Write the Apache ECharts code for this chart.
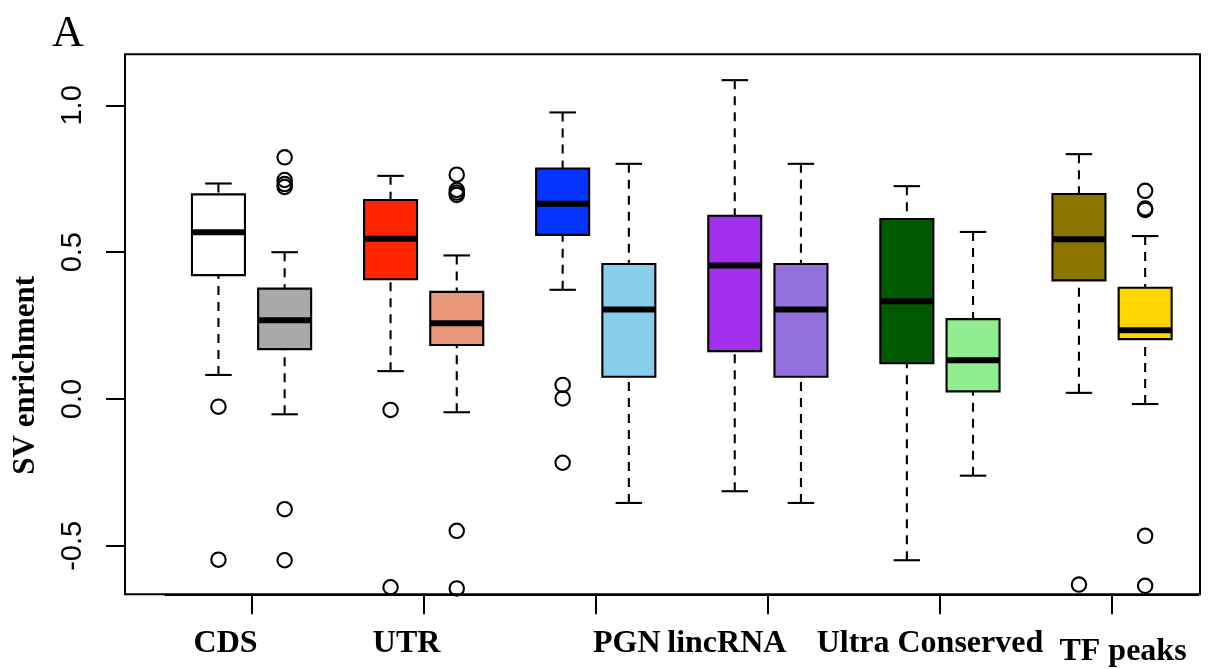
<!DOCTYPE html>
<html>
<head>
<meta charset="utf-8">
<script src="https://cdn.jsdelivr.net/npm/echarts@6/dist/echarts.min.js"></script>
<style>
  html, body { margin: 0; padding: 0; background: #fff; }
  #chart { width: 1211px; height: 669px; }
</style>
</head>
<body>
<div id="chart"></div>
<script>
// groups on the x axis, each one has two boxes (left / right)
const categories = ['CDS', 'UTR', 'PGN', 'lincRNA', 'Ultra Conserved', 'TF peaks']

// box stats, 12 boxes in order (CDS left, CDS right, UTR left, ...)
const lowerWhisker = [0.082, -0.052, 0.095, -0.045, 0.372, -0.354, -0.314, -0.354, -0.549, -0.261, 0.021, -0.017]
const q1 = [0.422, 0.170, 0.408, 0.184, 0.559, 0.076, 0.163, 0.076, 0.122, 0.026, 0.404, 0.204]
const median = [0.568, 0.268, 0.546, 0.258, 0.665, 0.305, 0.455, 0.305, 0.333, 0.132, 0.544, 0.234]
const q3 = [0.697, 0.376, 0.678, 0.365, 0.785, 0.460, 0.624, 0.460, 0.613, 0.272, 0.698, 0.379]
const upperWhisker = [0.734, 0.500, 0.760, 0.489, 0.976, 0.801, 1.086, 0.801, 0.725, 0.569, 0.834, 0.555]
const outliers = [
  [-0.026, -0.547],
  [0.823, 0.746, 0.732, 0.722, -0.375, -0.549],
  [-0.037, -0.641],
  [0.764, 0.712, 0.703, 0.695, -0.449, -0.645],
  [0.048, 0.002, -0.217],
  [],
  [],
  [],
  [],
  [],
  [-0.632],
  [0.709, 0.649, 0.644, -0.466, -0.636]
]
const yTicks = [-0.5, 0, 0.5, 1.0]

const boxColors = ['#FFFFFF', '#A9A9A9', '#FF2600', '#E9967A', '#0534FF', '#87CEEB',
  '#A030EC', '#9370DB', '#005A00', '#90EE90', '#8B7500', '#FFD700']

// label nudges (px) to follow the hand placed labels of the original
const labelShift = [-26, -17, 31, -41, -10, 11]

const PAIR_OFFSET = 0.1923 // box centre offset, share of the band
const BOX_HALF = 0.154 // half box width, share of the band
const Y_MIN = -0.665
const Y_MAX = 1.174
const LW = 2.1

const boxData = median.map((m, i) => [Math.floor(i / 2), i % 2 ? 1 : -1,
  lowerWhisker[i], q1[i], m, q3[i], upperWhisker[i]])

const outlierData = []
outliers.forEach((list, i) => {
  list.forEach(v => outlierData.push([Math.floor(i / 2), i % 2 ? 1 : -1, v]))
})

const catItems = categories.map((c, i) => {
  const s = labelShift[i]
  const pad = [i === 5 ? 8 : 0, s < 0 ? -2 * s : 0, 0, s > 0 ? 2 * s : 0]
  return { value: c, textStyle: { padding: pad } }
})

function renderBox (params, api) {
  const cat = api.value(0)
  const side = api.value(1)
  const band = api.size([1, 0])[0]
  const cx = api.coord([cat, 0])[0] + side * band * PAIR_OFFSET
  const half = band * BOX_HALF
  const y = d => api.coord([cat, api.value(d)])[1]
  const yLow = y(2), yQ1 = y(3), yMed = y(4), yQ3 = y(5), yHigh = y(6)
  const dashed = { stroke: '#000', lineWidth: LW, lineDash: [9, 7] }
  const solid = { stroke: '#000', lineWidth: LW }
  return {
    type: 'group',
    children: [
      { type: 'line', shape: { x1: cx, y1: yHigh, x2: cx, y2: yQ3 }, style: dashed },
      { type: 'line', shape: { x1: cx, y1: yLow, x2: cx, y2: yQ1 }, style: dashed },
      { type: 'line', shape: { x1: cx - half / 2, y1: yHigh, x2: cx + half / 2, y2: yHigh }, style: solid },
      { type: 'line', shape: { x1: cx - half / 2, y1: yLow, x2: cx + half / 2, y2: yLow }, style: solid },
      {
        type: 'rect',
        shape: { x: cx - half, y: yQ3, width: 2 * half, height: yQ1 - yQ3 },
        style: { fill: boxColors[params.dataIndex], stroke: '#000', lineWidth: LW }
      },
      { type: 'line', shape: { x1: cx - half, y1: yMed, x2: cx + half, y2: yMed }, style: { stroke: '#000', lineWidth: 6 } }
    ]
  }
}

function renderOutlier (params, api) {
  const cat = api.value(0)
  const band = api.size([1, 0])[0]
  const p = api.coord([cat, api.value(2)])
  return {
    type: 'circle',
    shape: { cx: p[0] + api.value(1) * band * PAIR_OFFSET, cy: p[1], r: 7.2 },
    style: { fill: 'none', stroke: '#000', lineWidth: LW }
  }
}

const myChart = echarts.init(document.getElementById('chart'))

myChart.setOption({
  animation: false,
  backgroundColor: '#fff',
  title: {
    text: 'A',
    left: 47,
    top: 7,
    textStyle: { fontFamily: 'Liberation Serif', fontSize: 44, fontWeight: 'normal', color: '#000' }
  },
  grid: [
    { left: 125, top: 54.3, width: 1075, height: 540, show: true, borderColor: '#000', borderWidth: 2, backgroundColor: 'transparent' },
    { left: 165.5, top: 54.3, width: 1032.6, height: 540 }
  ],
  xAxis: [
    { gridIndex: 0, type: 'value', min: 0, max: 1, show: false },
    {
      gridIndex: 1,
      type: 'category',
      position: 'bottom',
      data: catItems,
      axisLine: { show: true, onZero: false, lineStyle: { color: '#000', width: 2 } },
      axisTick: { show: true, alignWithLabel: true, length: 20, lineStyle: { color: '#000', width: 2 } },
      axisLabel: {
        interval: 0,
        margin: 33,
        fontSize: 32,
        fontFamily: 'Liberation Serif',
        fontWeight: 'bold',
        color: '#000'
      },
      splitLine: { show: false }
    }
  ],
  yAxis: [
    {
      gridIndex: 0,
      type: 'value',
      min: Y_MIN,
      max: Y_MAX,
      axisLine: { show: false },
      axisTick: { show: true, length: 19, customValues: yTicks, lineStyle: { color: '#000', width: 2 } },
      axisLabel: {
        customValues: yTicks,
        rotate: 90,
        margin: 38,
        fontSize: 29,
        fontFamily: 'Liberation Sans',
        color: '#000',
        formatter: v => v.toFixed(1)
      },
      splitLine: { show: false },
      name: 'SV enrichment',
      nameLocation: 'middle',
      nameRotate: 90,
      nameGap: 84,
      nameTextStyle: {
        fontFamily: 'Liberation Serif',
        fontWeight: 'bold',
        fontSize: 31,
        color: '#000',
        padding: [0, 102, 0, 0]
      }
    },
    { gridIndex: 1, type: 'value', min: Y_MIN, max: Y_MAX, show: false }
  ],
  series: [
    {
      type: 'custom',
      name: 'boxes',
      xAxisIndex: 1,
      yAxisIndex: 1,
      data: boxData,
      encode: { x: 0, y: [2, 3, 4, 5, 6] },
      renderItem: renderBox,
      clip: false
    },
    {
      type: 'custom',
      name: 'outliers',
      xAxisIndex: 1,
      yAxisIndex: 1,
      data: outlierData,
      encode: { x: 0, y: 2 },
      renderItem: renderOutlier,
      clip: false
    }
  ]
})
</script>
</body>
</html>
